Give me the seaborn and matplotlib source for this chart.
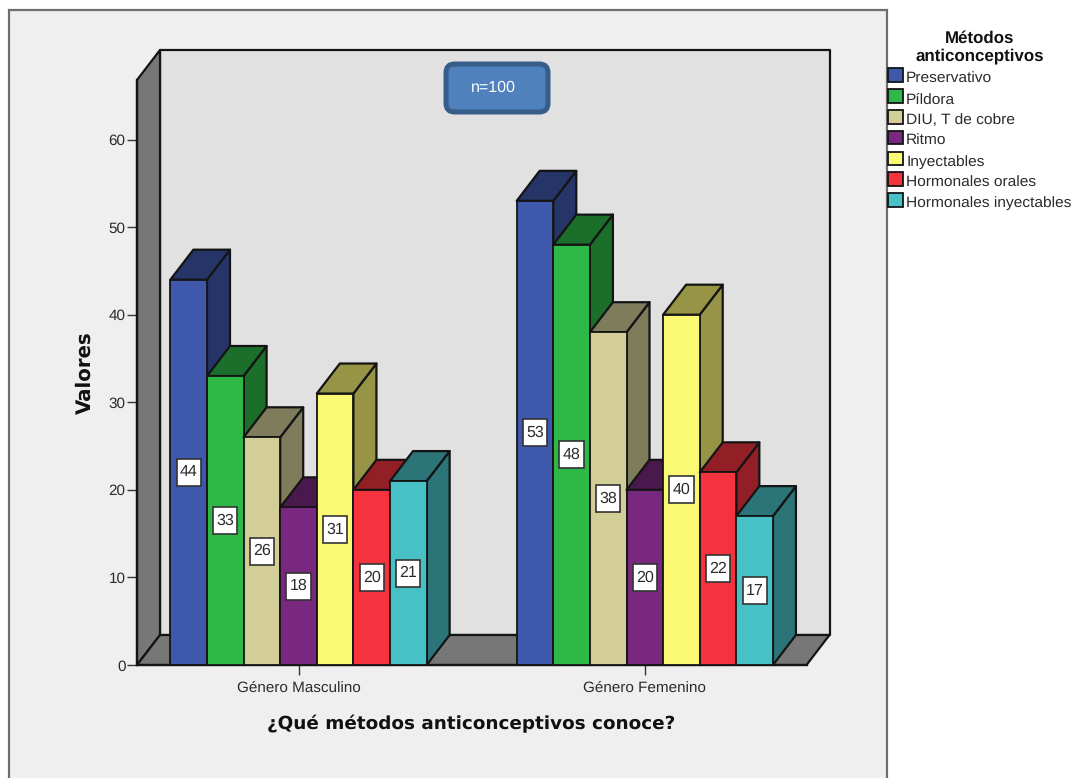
import matplotlib
matplotlib.use("Agg")
import matplotlib.pyplot as plt
from matplotlib.colors import to_rgb
from matplotlib.patches import FancyBboxPatch, Polygon, Rectangle
from matplotlib.path import Path
import pandas as pd
import seaborn as sns

# Survey counts by gender and contraceptive method
genders = ["Género Masculino", "Género Femenino"]
methods = ["Preservativo", "Píldora", "DIU, T de cobre", "Ritmo",
           "Inyectables", "Hormonales orales", "Hormonales inyectables"]
male_counts = [44, 33, 26, 18, 31, 20, 21]
female_counts = [53, 48, 38, 20, 40, 22, 17]
method_colors = ["#3E58AC", "#2EB848", "#D3CE97", "#79287F",
                 "#FBF873", "#F5333F", "#48C1C6"]
y_ticks = [0, 10, 20, 30, 40, 50, 60]

FIG_W, FIG_H = 1077, 778
EDGE = "#141414"
WALL = "#E1E1E1"
SHADE = "#777777"
TEXT = "#2B2B2B"
SANS = "Liberation Sans"
DEPTH_PX = (23.0, 30.0)


def fx(px):
    return px / FIG_W


def fy(py):
    return 1 - py / FIG_H


def darker(color, factor=0.6):
    return tuple(c * factor for c in to_rgb(color))


def tag_box(x0, y0, width, height, mutation_size):
    # Value tag outline: taller padding than wide, as the labels are upright boxes
    pad_x, pad_y = 0.2 * mutation_size, 0.38 * mutation_size
    left, right = x0 - pad_x, x0 + width + pad_x
    low, high = y0 - pad_y, y0 + height + pad_y
    return Path([(left, low), (right, low), (right, high), (left, high), (left, low)], closed=True)


sns.set_theme(style="white", font=SANS)
plt.rcParams["font.family"] = [SANS, "DejaVu Sans"]
plt.rcParams["text.hinting"] = "no_hinting"

fig = plt.figure(figsize=(FIG_W / 100, FIG_H / 100), dpi=100, facecolor="white")

# Grey chart panel behind the plot; the legend sits outside it on white
fig.add_artist(Rectangle((fx(9), -0.01), fx(877.5), fy(10) + 0.01,
                         transform=fig.transFigure, fc="#EFEFEF", ec="#6E6E6E",
                         lw=1.6, zorder=-5))

ax = fig.add_axes([fx(137), fy(665), fx(669.5), 585 / FIG_H])
ax.patch.set_alpha(0)

table = pd.DataFrame({
    "genero": [g for g in genders for _ in methods],
    "metodo": methods * 2,
    "valor": male_counts + female_counts,
})
sns.barplot(data=table, x="genero", y="valor", hue="metodo", order=genders,
            hue_order=methods, palette=method_colors, saturation=1, width=0.74,
            gap=0, edgecolor=EDGE, linewidth=1.3, errorbar=None, ax=ax)

ax.set_xlim(-0.4664, 1.4669)
ax.set_ylim(0, 66.8)
ax.set_yticks(y_ticks)

# Oblique depth expressed in data units
x_per_px = 1 / (ax.transData.transform((1, 0))[0] - ax.transData.transform((0, 0))[0])
y_per_px = 1 / (ax.transData.transform((0, 1))[1] - ax.transData.transform((0, 0))[1])
dx = DEPTH_PX[0] * x_per_px
dy = DEPTH_PX[1] * y_per_px
x0, x1 = ax.get_xlim()
y0, y1 = ax.get_ylim()


def face(points, color, zorder):
    ax.add_patch(Polygon(points, closed=True, fc=color, ec=EDGE, lw=1.6,
                         clip_on=False, zorder=zorder, joinstyle="round"))


# Back wall, left wall and floor of the box
face([(x0 + dx, y0 + dy), (x1 + dx, y0 + dy), (x1 + dx, y1 + dy), (x0 + dx, y1 + dy)], WALL, 1)
face([(x0, y0), (x0, y1), (x0 + dx, y1 + dy), (x0 + dx, y0 + dy)], SHADE, 1.1)
face([(x0, y0), (x1, y0), (x1 + dx, y0 + dy), (x0 + dx, y0 + dy)], SHADE, 1.1)

# Side and top faces, painted left to right so nearer bars cover them
bars = sorted([p for c in ax.containers for p in c], key=lambda p: p.get_x())
for i, bar in enumerate(bars):
    left, right = bar.get_x(), bar.get_x() + bar.get_width()
    top = bar.get_height()
    shade = darker(bar.get_facecolor())
    base = 10 + 3 * i
    face([(right, 0), (right, top), (right + dx, top + dy), (right + dx, dy)], shade, base)
    face([(left, top), (right, top), (right + dx, top + dy), (left + dx, top + dy)], shade, base + 1)
    bar.set_zorder(base + 2)
    bar.set_clip_on(False)

# Value tags centred on each front face
for container in ax.containers:
    for tag in ax.bar_label(container, label_type="center", fontsize=11.5, color=TEXT,
                            family=SANS,
                            bbox=dict(boxstyle=tag_box, fc="white", ec="#333333", lw=1.2)):
        tag.set_zorder(200)

for side in ("top", "right"):
    ax.spines[side].set_visible(False)
for side in ("left", "bottom"):
    ax.spines[side].set_color(EDGE)
    ax.spines[side].set_linewidth(1.6)
    ax.spines[side].set_zorder(5)
ax.tick_params(axis="both", which="major", bottom=True, left=True, length=7.2, width=1.0,
               color="#333333", labelsize=11, labelcolor=TEXT)
ax.tick_params(axis="y", pad=1)
ax.tick_params(axis="x", pad=4)

ax.set_xlabel("")
ax.set_ylabel("")
fig.text(fx(471), fy(724), "¿Qué métodos anticonceptivos conoce?", ha="center", va="center",
         family="DejaVu Sans", weight="bold", fontsize=13.2, color="#111111")
fig.text(fx(85), fy(373), "Valores", ha="center", va="center", rotation=90,
         family="DejaVu Sans", weight="bold", fontsize=14.2, color="#111111")

# Sample-size callout over the back wall
fig.add_artist(FancyBboxPatch((fx(446), fy(112)), fx(102), 48 / FIG_H,
                              boxstyle="round,pad=0,rounding_size=0.008",
                              mutation_aspect=FIG_W / FIG_H,
                              transform=fig.transFigure, fc="#4F81BD", ec="#385D8A",
                              lw=3.6, zorder=300))
fig.text(fx(493), fy(87.5), "n=100", ha="center", va="center", color="white",
         fontsize=11.5, family=SANS, zorder=301)

# Legend in the white margin on the right
sns.move_legend(ax, "upper left", bbox_to_anchor=(fx(885), fy(27)),
                bbox_transform=fig.transFigure, title="Métodos\nanticonceptivos",
                frameon=False, fontsize=11.15, handlelength=0.97, handleheight=0.97,
                handletextpad=0.2, labelspacing=0.36, borderpad=0.2, borderaxespad=0,
                title_fontproperties={"weight": "bold", "size": 12.2, "family": SANS})
legend = ax.get_legend()
legend.set_zorder(300)
legend.set_alignment("center")
legend._legend_box.sep = 4.5
for handle in legend.get_patches():
    handle.set_edgecolor(EDGE)
    handle.set_linewidth(1.3)
    handle.set_y(handle.get_y() + 1.5)
for label in legend.get_texts():
    label.set_color(TEXT)
legend.get_title().set_color("#111111")
legend.get_title().set_linespacing(1.2)
legend.get_title().set_multialignment("center")

fig.savefig("out.png", dpi=100)
